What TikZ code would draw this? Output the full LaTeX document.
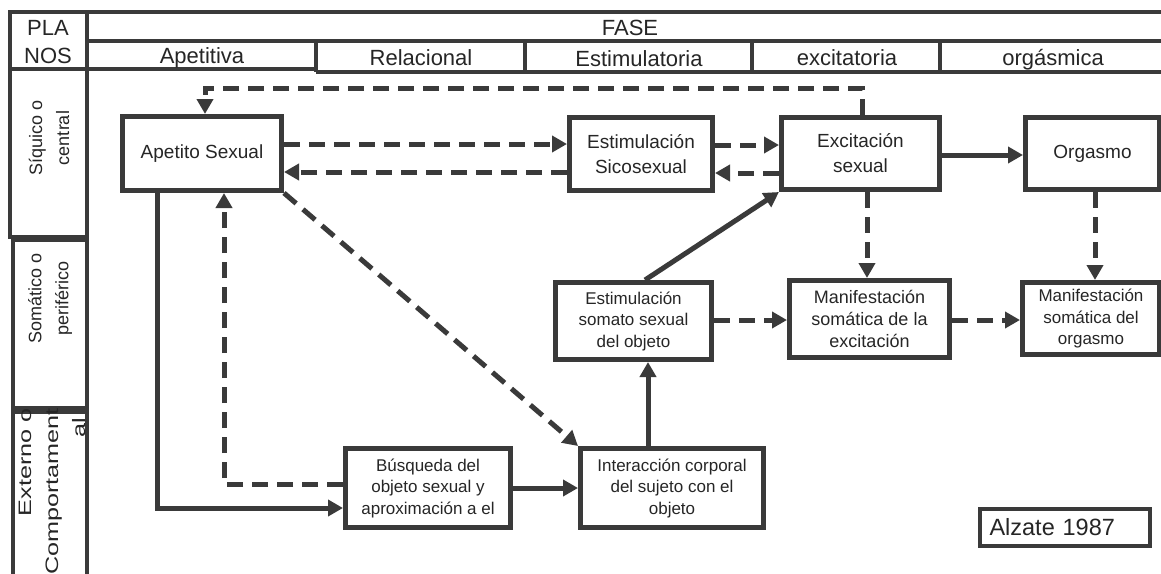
\documentclass[tikz,border=0pt]{standalone}
\usepackage{fontspec}
\usepackage{graphicx}
\setmainfont{Liberation Sans}
\usetikzlibrary{arrows.meta}
\definecolor{ink}{HTML}{3A3A3A}
\definecolor{txt}{HTML}{262626}
\newcommand\fsz[2]{\fontsize{#1}{#2}\selectfont}
\begin{document}
\begin{tikzpicture}[x=1pt,y=-1pt,
  box/.style={draw=ink, line width=5pt, fill=white, align=center, text=txt, inner sep=2pt},
  big/.style={box, font=\fsz{19}{25}},
  small/.style={box, font=\fsz{17}{21.5}},
  conn/.style={draw=ink, line width=5pt, -{Triangle[length=15pt,width=16pt]}},
  dconn/.style={conn, dash pattern=on 16pt off 9pt},
  grid/.style={draw=ink, line width=3.5pt},
  hdr/.style={font=\fsz{22}{28}, text=txt, inner sep=0pt},
  side/.style={font=\fsz{18}{27}, text=txt, rotate=90, align=center, inner sep=0pt},
]
\useasboundingbox (0,0) rectangle (1161,573);
\fill[white] (0,0) rectangle (1161,573);

% header table
\draw[grid] (10,12) -- (1163,12);
\draw[grid] (10,12) rectangle (87,69);
\draw[grid] (87,41) -- (1163,41);
\draw[grid] (87,69) -- (316,69);
\draw[grid] (316,72) -- (1163,72);
\draw[grid] (316,41) -- (316,72);
\draw[grid] (525,41) -- (525,72);
\draw[grid] (752,41) -- (752,72);
\draw[grid] (940,41) -- (940,72);

% left column
\draw[grid] (87,12) -- (87,580);
\draw[grid] (10,69) rectangle (87,237);
\draw[grid] (13,240) rectangle (87,408);
\draw[grid] (13,580) -- (13,412) -- (87,412);

\node[hdr, align=center, anchor=base] (planos) at (48,35) {PLA};
\node[hdr, anchor=base] (planos2) at (48,63) {NOS};
\node[hdr, anchor=base] (fase) at (630,35) {FASE};
\node[hdr, anchor=base] (f1) at (202,63) {Apetitiva};
\node[hdr, anchor=base] (f2) at (421,65) {Relacional};
\node[hdr, anchor=base] (f3) at (639,66) {Estimulatoria};
\node[hdr, anchor=base] (f4) at (847,65) {excitatoria};
\node[hdr, anchor=base] (f5) at (1053,65) {orgásmica};

\node[side] (p1) at (49,138) {Síquico o\\central};
\node[side] (p2) at (50,298) {Somático o\\periférico};
\node[side, align=right, anchor=east] (p3) at (52,408)
  {\scalebox{1.4}[1]{Externo o}\\\scalebox{1.4}[1]{Comportament}\\\scalebox{1.4}[1]{al}\hspace*{10pt}};

% boxes
\node[big, minimum width=159pt, minimum height=74pt] (A) at (202,153.5) {Apetito Sexual};
\node[big, minimum width=143pt, minimum height=73pt] (E1) at (641,154) {Estimulación\\Sicosexual};
\node[big, minimum width=158pt, minimum height=72pt] (X) at (860.5,153.5) {Excitación\\sexual};
\node[big, minimum width=134pt, minimum height=72pt] (O) at (1092.5,153.5) {Orgasmo};
\node[small, minimum width=156pt, minimum height=77pt] (S) at (633.5,321) {Estimulación\\somato sexual\\del objeto};
\node[small, font=\fsz{18}{22}, minimum width=160pt, minimum height=77pt] (M1) at (869.5,319) {Manifestación\\somática de la\\excitación};
\node[small, minimum width=137pt, minimum height=72pt] (M2) at (1091,318.5) {Manifestación\\somática del\\orgasmo};
\node[small, minimum width=165pt, minimum height=79pt] (B) at (428,488) {Búsqueda del\\objeto sexual y\\aproximación a el};
\node[small, minimum width=183pt, minimum height=79pt] (I) at (672,488) {Interacción corporal\\del sujeto con el\\objeto};
\node[draw=ink, line width=4pt, fill=white, text=txt, font=\fsz{23.5}{28}, text width=150pt, align=left, inner xsep=10pt, minimum height=37pt] (Z) at (1064.5,527.5) {Alzate 1987};

% connectors
\draw[dconn] (862,0 |- X.north) -- (862,88) -| ([xshift=3pt]A.north);
\draw[dconn] (A.east |- 0,144) -- (E1.west |- 0,144);
\draw[dconn] (E1.west |- 0,172) -- (A.east |- 0,172);
\draw[dconn] (E1.east |- 0,145) -- (X.west |- 0,145);
\draw[dconn] (X.west |- 0,173) -- (E1.east |- 0,173);
\draw[conn] (X.east |- 0,155) -- (O.west |- 0,155);
\draw[dconn] (867,0 |- X.south) -- (867,0 |- M1.north);
\draw[dconn] (1095,0 |- O.south) -- (1095,0 |- M2.north);
\draw[dconn] (S.east |- 0,320) -- (M1.west |- 0,320);
\draw[dconn] (M1.east |- 0,320) -- (M2.west |- 0,320);
\draw[conn] (648,0 |- I.north) -- (648,0 |- S.south);
\draw[conn] (645,0 |- S.north) -- (X.south west);
\draw[dconn] (A.south east) -- (I.north west);
\draw[conn] (157,0 |- A.south) |- (B.west |- 0,508);
\draw[dconn] (B.west |- 0,484) -| (224,0 |- A.south);
\draw[conn] (B.east |- 0,488) -- (I.west |- 0,488);
\end{tikzpicture}
\end{document}
